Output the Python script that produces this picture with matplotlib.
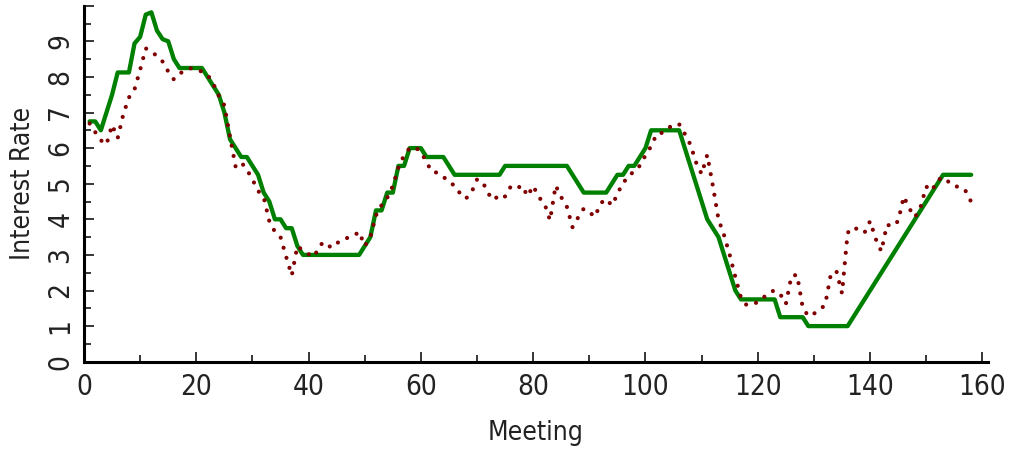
import matplotlib
matplotlib.use("Agg")
import matplotlib.pyplot as plt
from matplotlib.ticker import MultipleLocator, FixedLocator

# ---- data -------------------------------------------------------------
meetings = list(range(1, 159))

target_rate = [
    6.75, 6.75, 6.5, 7.0, 7.5, 8.125, 8.125, 8.125, 8.94, 9.125,
    9.75, 9.8125, 9.3, 9.06, 9.0, 8.5, 8.25, 8.25, 8.25, 8.25,
    8.25, 8.0, 7.75, 7.5, 7.0, 6.25, 6.0, 5.75, 5.75, 5.5,
    5.25, 4.75, 4.5, 4.0, 4.0, 3.75, 3.75, 3.25, 3.0, 3.0,
    3.0, 3.0, 3.0, 3.0, 3.0, 3.0, 3.0, 3.0, 3.0, 3.25,
    3.5, 4.25, 4.25, 4.75, 4.75, 5.5, 5.5, 6.0, 6.0, 6.0,
    5.75, 5.75, 5.75, 5.75, 5.5, 5.25, 5.25, 5.25, 5.25, 5.25,
    5.25, 5.25, 5.25, 5.25, 5.5, 5.5, 5.5, 5.5, 5.5, 5.5,
    5.5, 5.5, 5.5, 5.5, 5.5, 5.5, 5.25, 5.0, 4.75, 4.75,
    4.75, 4.75, 4.75, 5.0, 5.25, 5.25, 5.5, 5.5, 5.75, 6.0,
    6.5, 6.5, 6.5, 6.5, 6.5, 6.5, 6.0, 5.5, 5.0, 4.5,
    4.0, 3.75, 3.5, 3.0, 2.5, 2.0, 1.75, 1.75, 1.75, 1.75,
    1.75, 1.75, 1.75, 1.25, 1.25, 1.25, 1.25, 1.25, 1.0, 1.0,
    1.0, 1.0, 1.0, 1.0, 1.0, 1.0, 1.25, 1.5, 1.75, 2.0,
    2.25, 2.5, 2.75, 3.0, 3.25, 3.5, 3.75, 4.0, 4.25, 4.5,
    4.75, 5.0, 5.25, 5.25, 5.25, 5.25, 5.25, 5.25,
]

predicted_rate = [
    6.69, 6.45, 6.22, 6.10, 6.65, 6.28, 6.95, 7.42, 7.65, 8.20,
    8.80, 8.72, 8.58, 8.43, 8.15, 7.93, 8.08, 8.20, 8.24, 8.20,
    8.15, 8.06, 7.82, 7.47, 7.20, 6.32, 5.48, 5.60, 5.40, 5.12,
    4.80, 4.62, 3.95, 3.65, 3.50, 2.95, 2.42, 3.25, 3.12, 3.02,
    2.95, 3.28, 3.36, 3.20, 3.32, 3.44, 3.48, 3.53, 3.65, 3.25,
    3.50, 4.11, 4.40, 4.60, 4.94, 5.45, 5.80, 6.00, 6.02, 5.90,
    5.60, 5.33, 5.31, 5.20, 5.04, 4.95, 4.72, 4.58, 4.75, 5.12,
    5.05, 4.72, 4.54, 4.70, 4.64, 4.92, 4.86, 4.95, 4.65, 4.94,
    4.62, 4.45, 3.97, 4.95, 4.62, 4.35, 3.78, 4.05, 4.30, 4.20,
    4.07, 4.45, 4.57, 4.39, 4.70, 5.05, 5.15, 5.40, 5.50, 5.80,
    6.05, 6.40, 6.43, 6.55, 6.67, 6.67, 6.40, 6.10, 5.60, 5.27,
    5.81, 4.94, 4.00, 3.55, 3.00, 2.38, 1.80, 1.59, 1.62, 1.67,
    1.80, 1.95, 2.00, 1.90, 1.62, 2.41, 2.44, 1.52, 1.28, 1.35,
    1.45, 1.60, 2.45, 2.55, 1.92, 3.62, 3.78, 3.70, 3.62, 3.95,
    3.45, 3.10, 3.85, 3.80, 3.95, 4.64, 4.30, 4.06, 4.35, 4.92,
    4.80, 5.10, 5.18, 5.05, 4.92, 4.92, 4.80, 4.49,
]

x_major = list(range(0, 161, 20))
y_major = list(range(0, 11))
y_labels = [str(v) for v in range(0, 10)] + [""]

# ---- figure ------------------------------------------------------------
plt.rcParams["font.family"] = ["DejaVu Sans"]
plt.rcParams["font.stretch"] = "condensed"
plt.rcParams["font.weight"] = "light"

W, H = 1012, 451
fig = plt.figure(figsize=(W / 100, H / 100), dpi=100)
left, right = 84, 988
bottom, top = 361.7, 5.7
ax = fig.add_axes([left / W, 1 - bottom / H, (right - left) / W, (bottom - top) / H])

ax.plot(meetings, target_rate, color="#008000", lw=3.1,
        solid_capstyle="round", solid_joinstyle="round", zorder=2)
ax.plot(meetings, predicted_rate, color="#800000", lw=3.0,
        linestyle=(0, (0.01, 2.5)), dash_capstyle="round", zorder=3)

ax.set_xlim(0, 161)
ax.set_ylim(0, 10)

for s in ["top", "right"]:
    ax.spines[s].set_visible(False)
for s in ["left", "bottom"]:
    ax.spines[s].set_linewidth(2.2)
    ax.spines[s].set_color("black")

ax.xaxis.set_major_locator(FixedLocator(x_major))
ax.xaxis.set_minor_locator(MultipleLocator(10))
ax.yaxis.set_major_locator(FixedLocator(y_major))
ax.yaxis.set_minor_locator(MultipleLocator(0.5))
ax.set_xticklabels([str(v) for v in x_major])
ax.set_yticklabels(y_labels, rotation=90, va="center")

ax.tick_params(which="major", direction="in", length=7, width=1.1,
               labelsize=20, color="black", labelcolor="#222222")
ax.tick_params(which="minor", direction="in", length=5, width=1.1, color="black")
ax.tick_params(axis="x", which="major", pad=8)
ax.tick_params(axis="y", which="major", pad=7)

ax.set_xlabel("Meeting", fontsize=19, color="#222222")
ax.set_ylabel("Interest Rate", fontsize=19, color="#222222")
ax.xaxis.set_label_coords(0.5, -0.165)
ax.yaxis.set_label_coords(-0.053, 0.5)

fig.savefig("out.png", dpi=100)
